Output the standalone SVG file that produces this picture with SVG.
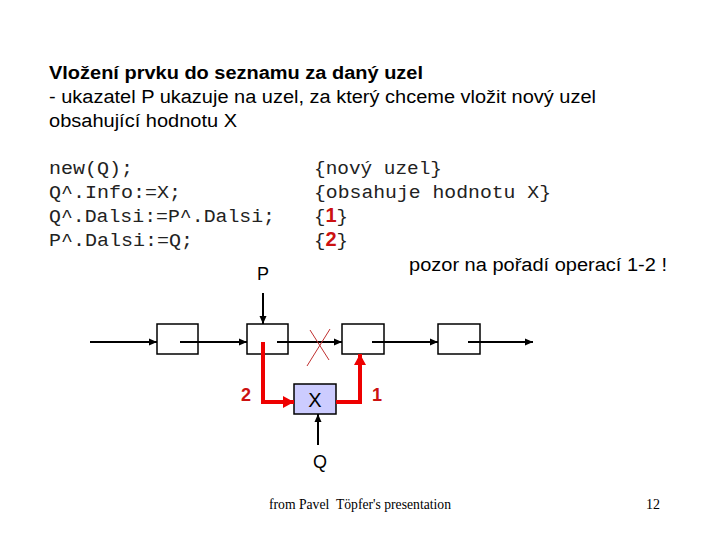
<svg xmlns="http://www.w3.org/2000/svg" width="720" height="540" viewBox="0 0 720 540">
<style>
.sans{font-family:"Liberation Sans",Arial,sans-serif;fill:#000}
.mono{font-family:"Liberation Mono","Courier New",monospace;font-size:19px;fill:#222}
.red{font-family:"Liberation Sans",Arial,sans-serif;font-weight:bold;fill:#cc1111}
.box{fill:#fff;stroke:#000;stroke-width:1.5}
.bl{stroke:#000;stroke-width:2;fill:none}
.rl{stroke:#ee0000;stroke-width:4;fill:none}
</style>
<defs>
<marker id="ab" markerUnits="userSpaceOnUse" markerWidth="8" markerHeight="8" refX="8" refY="4" orient="auto"><path d="M0,0.5 L8,4 L0,7.5 z" fill="#000"/></marker>
<marker id="ar" markerUnits="userSpaceOnUse" markerWidth="11" markerHeight="12" refX="11" refY="6" orient="auto"><path d="M0,0 L11,6 L0,12 z" fill="#ee0000"/></marker>
</defs>
<rect width="720" height="540" fill="#fff"/>
<g id="heading">
<text class="sans" x="49" y="79" font-size="18" font-weight="bold" textLength="374" lengthAdjust="spacingAndGlyphs">Vložení prvku do seznamu za daný uzel</text>
<text class="sans" x="49" y="103" font-size="18" textLength="547" lengthAdjust="spacingAndGlyphs">- ukazatel P ukazuje na uzel, za který chceme vložit nový uzel</text>
<text class="sans" x="49" y="127" font-size="18" textLength="188" lengthAdjust="spacingAndGlyphs">obsahující hodnotu X</text>
</g>
<g id="code">
<text class="mono" x="49" y="174" textLength="84" lengthAdjust="spacingAndGlyphs">new(Q);</text>
<text class="mono" x="49" y="198" textLength="132" lengthAdjust="spacingAndGlyphs">Q^.Info:=X;</text>
<text class="mono" x="49" y="222" textLength="226" lengthAdjust="spacingAndGlyphs">Q^.Dalsi:=P^.Dalsi;</text>
<text class="mono" x="49" y="246" textLength="144" lengthAdjust="spacingAndGlyphs">P^.Dalsi:=Q;</text>
<text class="mono" x="314" y="174" textLength="128" lengthAdjust="spacingAndGlyphs">{nový uzel}</text>
<text class="mono" x="314" y="198" textLength="237" lengthAdjust="spacingAndGlyphs">{obsahuje hodnotu X}</text>
<text class="mono" x="314" y="222">{<tspan class="red" font-size="20">1</tspan>}</text>
<text class="mono" x="314" y="246">{<tspan class="red" font-size="20">2</tspan>}</text>
</g>
<g id="warning">
<text class="sans" x="409" y="271" font-size="18" textLength="258" lengthAdjust="spacingAndGlyphs">pozor na pořadí operací 1-2 !</text>
</g>
<g id="node1"><rect class="box" x="157" y="324" width="41" height="30"/></g>
<g id="node2"><rect class="box" x="247" y="324" width="41" height="30"/></g>
<g id="node3"><rect class="box" x="342" y="324" width="42" height="30"/></g>
<g id="node4"><rect class="box" x="438" y="324" width="42" height="30"/></g>
<g id="nodeX">
<rect x="294" y="384" width="42" height="30" fill="#ccccff" stroke="#000" stroke-width="1.5"/>
<text class="sans" x="315" y="407" font-size="20" text-anchor="middle">X</text>
</g>
<g id="labelP"><text class="sans" x="263" y="280" font-size="18" text-anchor="middle">P</text></g>
<g id="labelQ"><text class="sans" x="320" y="468" font-size="18" text-anchor="middle">Q</text></g>
<g id="label2"><text class="red" x="246" y="401" font-size="18" text-anchor="middle">2</text></g>
<g id="label1"><text class="red" x="377" y="401" font-size="18" text-anchor="middle">1</text></g>
<g id="connectors">
<path class="bl" d="M90,342 H157" marker-end="url(#ab)"/>
<path class="bl" d="M180,342 H247" marker-end="url(#ab)"/>
<path class="bl" d="M277,342 H342" marker-end="url(#ab)"/>
<path class="bl" d="M372,342 H438" marker-end="url(#ab)"/>
<path class="bl" d="M468,342 H533" marker-end="url(#ab)"/>
<path class="bl" d="M263,293 V324" marker-end="url(#ab)"/>
<path class="bl" d="M318,445 V414" marker-end="url(#ab)"/>
<path class="rl" d="M263,342 V402 H294" marker-end="url(#ar)"/>
<path class="rl" d="M336,402 H360 V354" marker-end="url(#ar)"/>
<path d="M307,366 L330,329 M310,330 L329,360" stroke="#c03030" stroke-width="1" fill="none"/>
</g>
<g id="footer">
<text x="269" y="509" font-family="'Liberation Serif','Times New Roman',serif" font-size="14" textLength="182" lengthAdjust="spacingAndGlyphs" xml:space="preserve">from Pavel  Töpfer's presentation</text>
<text x="646" y="509" font-family="'Liberation Serif','Times New Roman',serif" font-size="14">12</text>
</g>
</svg>
